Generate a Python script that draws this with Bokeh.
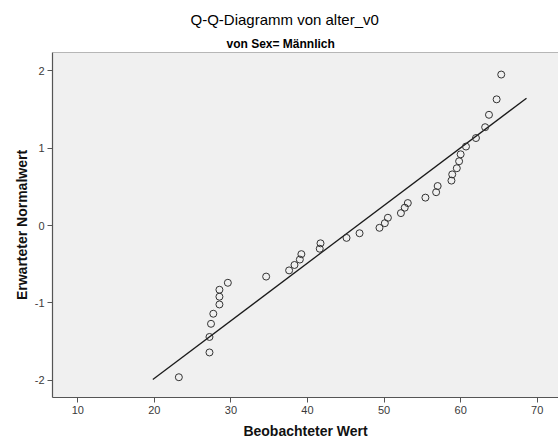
from bokeh.plotting import figure
from bokeh.models import Range1d, Title, Span, FixedTicker, PrintfTickFormatter
from bokeh.embed import file_html
from bokeh.resources import INLINE

# Observed ages (Beobachteter Wert) and their expected normal scores
observed = [23.2, 27.2, 27.2, 27.4, 27.7, 28.5, 28.5, 28.5, 29.6, 34.6,
            37.6, 38.3, 39.0, 39.2, 41.6, 41.7, 45.1, 46.8, 49.4, 50.1,
            50.5, 52.2, 52.7, 53.1, 55.4, 56.8, 57.0, 58.8, 58.9, 59.5,
            59.8, 60.0, 60.7, 62.0, 63.2, 63.7, 64.7, 65.3]
expected = [-1.96, -1.64, -1.44, -1.27, -1.14, -1.02, -0.92, -0.83, -0.74, -0.66,
            -0.58, -0.51, -0.44, -0.37, -0.30, -0.23, -0.16, -0.10, -0.03, 0.03,
            0.10, 0.16, 0.23, 0.29, 0.36, 0.43, 0.51, 0.58, 0.66, 0.74,
            0.83, 0.92, 1.02, 1.13, 1.27, 1.43, 1.63, 1.95]

# Reference line of the fitted normal distribution
ref_line_x = [19.8, 68.6]
ref_line_y = [-1.99, 1.645]

x_ticks = [10, 20, 30, 40, 50, 60, 70]
y_ticks = [-2, -1, 0, 1, 2]

FONT = "Liberation Sans"

p = figure(width=558, height=444, output_backend="svg", toolbar_location=None,
           title=None,
           x_range=Range1d(6.7, 72.78), y_range=Range1d(-2.222, 2.235),
           min_border_left=52, min_border_right=0, min_border_top=52,
           min_border_bottom=47)

p.background_fill_color = "#f0f0f0"
p.border_fill_color = "white"
p.outline_line_color = None
p.grid.visible = False

for ax in (p.xaxis[0], p.yaxis[0]):
    ax.axis_line_color = "#555555"
    ax.axis_line_width = 1.2
    ax.major_tick_line_color = "#555555"
    ax.major_tick_out = 5
    ax.major_tick_in = 0
    ax.minor_tick_line_color = None
    ax.major_label_text_font = FONT
    ax.major_label_text_font_size = "11px"
    ax.major_label_text_color = "#3a3a3a"
    ax.major_label_standoff = 3
    ax.axis_label_text_font = FONT
    ax.axis_label_text_font_size = "14px"
    ax.axis_label_text_font_style = "bold"
    ax.axis_label_text_color = "#111111"
    ax.formatter = PrintfTickFormatter(format="%d")

p.xaxis[0].ticker = FixedTicker(ticks=x_ticks)
p.yaxis[0].ticker = FixedTicker(ticks=y_ticks)
p.xaxis[0].axis_label = "Beobachteter Wert"
p.yaxis[0].axis_label = "Erwarteter Normalwert"
p.xaxis[0].axis_label_standoff = 6
p.yaxis[0].axis_label_standoff = 2

# top border of the plot area
p.add_layout(Span(location=2.235, dimension="width", line_color="#777777", line_width=1))

p.line(ref_line_x, ref_line_y, line_color="#1a1a1a", line_width=1.3)
p.scatter(observed, expected, marker="circle", size=7, fill_color=None,
          line_color="#333333", line_width=1)

# subtitle sits next to the frame, main title above it; both centred on the page
p.add_layout(Title(text="von Sex= Männlich", align="left", standoff=4, offset=174,
                   text_font=FONT, text_font_size="12px", text_font_style="bold",
                   text_color="#000000"), "above")
p.add_layout(Title(text="Q-Q-Diagramm von alter_v0", align="left", standoff=10,
                   offset=138, text_font=FONT, text_font_size="15px",
                   text_font_style="normal", text_color="#000000"), "above")

open("out.html", "w").write(file_html(p, INLINE))
